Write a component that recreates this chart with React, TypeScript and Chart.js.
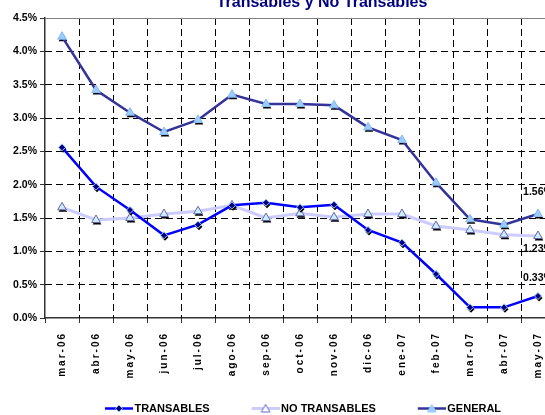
import React, { useEffect, useRef } from 'react';
import { Chart, registerables } from 'chart.js';

Chart.register(...registerables);

const categories = ['mar-06', 'abr-06', 'may-06', 'jun-06', 'jul-06', 'ago-06', 'sep-06', 'oct-06', 'nov-06', 'dic-06', 'ene-07', 'feb-07', 'mar-07', 'abr-07', 'may-07'];
const transables = [2.56, 1.97, 1.62, 1.24, 1.40, 1.69, 1.73, 1.66, 1.70, 1.32, 1.13, 0.66, 0.16, 0.16, 0.33];
const noTransables = [1.66, 1.47, 1.50, 1.56, 1.60, 1.69, 1.50, 1.57, 1.51, 1.56, 1.56, 1.38, 1.32, 1.25, 1.23];
const general = [4.22, 3.42, 3.08, 2.79, 2.97, 3.35, 3.21, 3.21, 3.19, 2.86, 2.67, 2.03, 1.48, 1.40, 1.56];
const seriesNames = ['TRANSABLES', 'NO TRANSABLES', 'GENERAL'];
const titleText = 'Transables y No Transables';
const yMin = 0;
const yMax = 4.5;
const yStep = 0.5;

const FONT = '"Liberation Sans", Arial, Helvetica, sans-serif';
const GRID_DASH = [7, 4];

type Kind = 'diamond' | 'tri';

function markerPath(g: CanvasRenderingContext2D, kind: Kind, cx: number, cy: number) {
  g.beginPath();
  if (kind === 'diamond') {
    g.moveTo(cx, cy - 3.5);
    g.lineTo(cx + 3.5, cy);
    g.lineTo(cx, cy + 3.5);
    g.lineTo(cx - 3.5, cy);
  } else {
    g.moveTo(cx, cy - 5);
    g.lineTo(cx + 4.33, cy + 2.5);
    g.lineTo(cx - 4.33, cy + 2.5);
  }
  g.closePath();
}

function makeLegendImg(kind: Kind, lineColor: string, lineWidth: number, fill: string, stroke: string) {
  const c = document.createElement('canvas');
  c.width = 64;
  c.height = 11;
  const g = c.getContext('2d')!;
  g.strokeStyle = lineColor;
  g.lineWidth = lineWidth;
  g.beginPath();
  g.moveTo(36, 5.5);
  g.lineTo(64, 5.5);
  g.stroke();
  markerPath(g, kind, 50, kind === 'tri' ? 6.5 : 5.5);
  g.fillStyle = fill;
  g.fill();
  g.lineWidth = 1;
  g.strokeStyle = stroke;
  g.stroke();
  return c;
}

const seriesStyle = [
  { color: '#0000FF', width: 2.5, kind: 'diamond' as Kind, pstyle: 'rectRot', radius: 3.5, fill: '#000080', stroke: '#99CCFF', lfill: '#000080', lstroke: '#99CCFF' },
  { color: '#CCCCFF', width: 3, kind: 'tri' as Kind, pstyle: 'triangle', radius: 5, fill: '#CCECFF', stroke: '#6666AA', lfill: '#FFFFFF', lstroke: '#6666CC' },
  { color: '#333399', width: 2.5, kind: 'tri' as Kind, pstyle: 'triangle', radius: 5, fill: '#99CCFF', stroke: '#88BBF0', lfill: '#99CCFF', lstroke: '#99CCFF' },
];

const alignPx = (p: number) => Math.round(p - 0.5) + 0.5;

// Dashed grid lines and tick marks placed from the chart's own scales.
const gridPlugin = {
  id: 'dashedGrid',
  beforeDatasetsDraw(chart: any) {
    const ctx = chart.ctx as CanvasRenderingContext2D;
    const a = chart.chartArea;
    const xs = chart.scales.x;
    const ys = chart.scales.y;
    ctx.save();
    ctx.globalAlpha = 1;
    ctx.globalCompositeOperation = 'source-over';
    ctx.lineWidth = 1;
    ctx.lineCap = 'butt';
    const n = categories.length;
    for (let i = 0; i <= n; i++) {
      const x = alignPx(xs.getPixelForValue(i - 0.5));
      if (i > 0) {
        ctx.strokeStyle = '#000';
        ctx.setLineDash(GRID_DASH);
        ctx.lineDashOffset = 0;
        ctx.beginPath();
        ctx.moveTo(x, a.top);
        ctx.lineTo(x, a.bottom);
        ctx.stroke();
      }
      ctx.setLineDash([]);
      ctx.strokeStyle = '#333';
      ctx.beginPath();
      ctx.moveTo(x, a.bottom);
      ctx.lineTo(x, a.bottom + 5);
      ctx.stroke();
    }
    const ticks = ys.ticks;
    ticks.forEach((t: any, i: number) => {
      const y = alignPx(ys.getPixelForValue(t.value));
      if (i === ticks.length - 1) {
        ctx.setLineDash([]);
        ctx.strokeStyle = '#808080';
        ctx.beginPath();
        ctx.moveTo(a.left, y);
        ctx.lineTo(a.right, y);
        ctx.stroke();
      } else if (i > 0) {
        ctx.setLineDash(GRID_DASH);
        ctx.lineDashOffset = 0;
        ctx.strokeStyle = '#000';
        ctx.beginPath();
        ctx.moveTo(a.left, y);
        ctx.lineTo(a.right, y);
        ctx.stroke();
      }
      ctx.setLineDash([]);
      ctx.strokeStyle = '#333';
      ctx.beginPath();
      ctx.moveTo(a.left - 5, y);
      ctx.lineTo(a.left, y);
      ctx.stroke();
    });
    ctx.restore();
  },
};

const shadowPlugin = {
  id: 'markerShadow',
  beforeDatasetDraw(chart: any, args: any) {
    const ctx = chart.ctx as CanvasRenderingContext2D;
    const kind = seriesStyle[args.index].kind;
    ctx.save();
    ctx.fillStyle = '#000';
    args.meta.data.forEach((pt: any) => {
      markerPath(ctx, kind, pt.x + 1, pt.y + 2);
      ctx.fill();
    });
    ctx.restore();
  },
};

const titlePlugin = {
  id: 'customTitle',
  afterDraw(chart: any) {
    const ctx = chart.ctx as CanvasRenderingContext2D;
    ctx.save();
    ctx.font = `bold 16px ${FONT}`;
    ctx.fillStyle = '#000080';
    ctx.textAlign = 'center';
    ctx.textBaseline = 'alphabetic';
    ctx.fillText(titleText, (chart.chartArea.left + chart.chartArea.right) / 2 + 22, 7);
    ctx.restore();
  },
};

const endLabelOffsets = [-18, 13, -22];

const endLabelPlugin = {
  id: 'endLabels',
  afterDatasetsDraw(chart: any) {
    const ctx = chart.ctx as CanvasRenderingContext2D;
    ctx.save();
    ctx.font = `bold 10.5px ${FONT}`;
    ctx.fillStyle = '#000';
    ctx.textAlign = 'center';
    ctx.textBaseline = 'middle';
    chart.data.datasets.forEach((ds: any, i: number) => {
      const meta = chart.getDatasetMeta(i);
      const last = meta.data.length - 1;
      const pt = meta.data[last];
      const v = ds.data[last] as number;
      ctx.fillText(v.toFixed(2) + '%', pt.x, pt.y + endLabelOffsets[i]);
    });
    ctx.restore();
  },
};

const letterSpacingPlugin = {
  id: 'xLetterSpacing',
  beforeDraw(chart: any) {
    const xs = chart.scales.x;
    if (xs && !xs.__spaced) {
      const orig = xs.drawLabels;
      xs.drawLabels = function (area: any) {
        const c = this.ctx as any;
        c.save();
        c.letterSpacing = '2px';
        orig.call(this, area);
        c.restore();
      };
      xs.__spaced = true;
    }
  },
};

export default function App() {
  const ref = useRef<HTMLCanvasElement>(null);

  useEffect(() => {
    const canvas = ref.current!;
    const datasetValues = [transables, noTransables, general];
    const legendImgs = seriesStyle.map((s) => makeLegendImg(s.kind, s.color, s.width, s.lfill, s.lstroke));

    const chart = new Chart(canvas, {
      type: 'line',
      data: {
        labels: categories,
        datasets: datasetValues.map((vals, i) => ({
          label: seriesNames[i],
          data: vals,
          borderColor: seriesStyle[i].color,
          backgroundColor: seriesStyle[i].color,
          borderWidth: seriesStyle[i].width,
          pointStyle: seriesStyle[i].pstyle,
          pointRadius: seriesStyle[i].radius,
          pointHoverRadius: seriesStyle[i].radius,
          pointBackgroundColor: seriesStyle[i].fill,
          pointBorderColor: seriesStyle[i].stroke,
          pointBorderWidth: 1,
          tension: 0,
          fill: false,
          yAxisID: 'y',
        })),
      },
      options: {
        responsive: false,
        animation: false,
        events: [],
        layout: { padding: { top: 18, left: 0, right: 0, bottom: 0 } },
        plugins: {
          title: { display: false },
          tooltip: { enabled: false },
          legend: {
            display: true,
            position: 'bottom',
            labels: {
              usePointStyle: true,
              pointStyleWidth: 56,
              padding: 10,
              color: '#000',
              font: { family: FONT, size: 11, weight: 'bold' },
              generateLabels: () =>
                seriesNames.map((name, i) => ({
                  text: name,
                  pointStyle: legendImgs[i] as any,
                  fillStyle: seriesStyle[i].color,
                  strokeStyle: seriesStyle[i].color,
                  lineWidth: 0,
                  hidden: false,
                  datasetIndex: i,
                })),
            },
          },
        },
        scales: {
          x: {
            type: 'category',
            offset: true,
            grid: {
              offset: true,
              drawOnChartArea: false,
              drawTicks: true,
              tickLength: 5,
              color: '#333',
              tickColor: '#333',
              tickWidth: 1,
            },
            border: { display: true, color: '#333', width: 1.5 },
            ticks: {
              autoSkip: false,
              maxRotation: 90,
              minRotation: 90,
              padding: 9,
              color: '#000',
              font: { family: FONT, size: 10, weight: 'bold' },
            },
            afterFit: (s: any) => {
              s.height = 75;
            },
          },
          y: {
            type: 'linear',
            position: 'left',
            min: yMin,
            max: yMax,
            grid: {
              drawOnChartArea: false,
              drawTicks: true,
              tickLength: 5,
              color: '#333',
              tickColor: '#333',
              tickWidth: 1,
            },
            border: { display: true, color: '#333', width: 1.5 },
            ticks: {
              stepSize: yStep,
              padding: 3,
              color: '#000',
              font: { family: FONT, size: 10.5, weight: 'bold' },
              callback: (v: any) => Number(v).toFixed(1) + '%',
            },
            afterFit: (s: any) => {
              s.width = 45;
            },
          },
          yPad: {
            type: 'linear',
            position: 'right',
            display: true,
            grid: { display: false, drawOnChartArea: false, drawTicks: false },
            border: { display: false },
            ticks: { display: false },
            afterFit: (s: any) => {
              s.width = 19;
            },
          },
        },
      },
      plugins: [gridPlugin, shadowPlugin, titlePlugin, endLabelPlugin, letterSpacingPlugin],
    } as any);

    return () => chart.destroy();
  }, []);

  return (
    <div
      style={{
        position: 'absolute',
        left: 0,
        top: 0,
        width: 545,
        height: 415,
        overflow: 'hidden',
        background: '#fff',
      }}
    >
      <canvas ref={ref} width={574} height={424} style={{ display: 'block', width: 574, height: 424 }} />
    </div>
  );
}
